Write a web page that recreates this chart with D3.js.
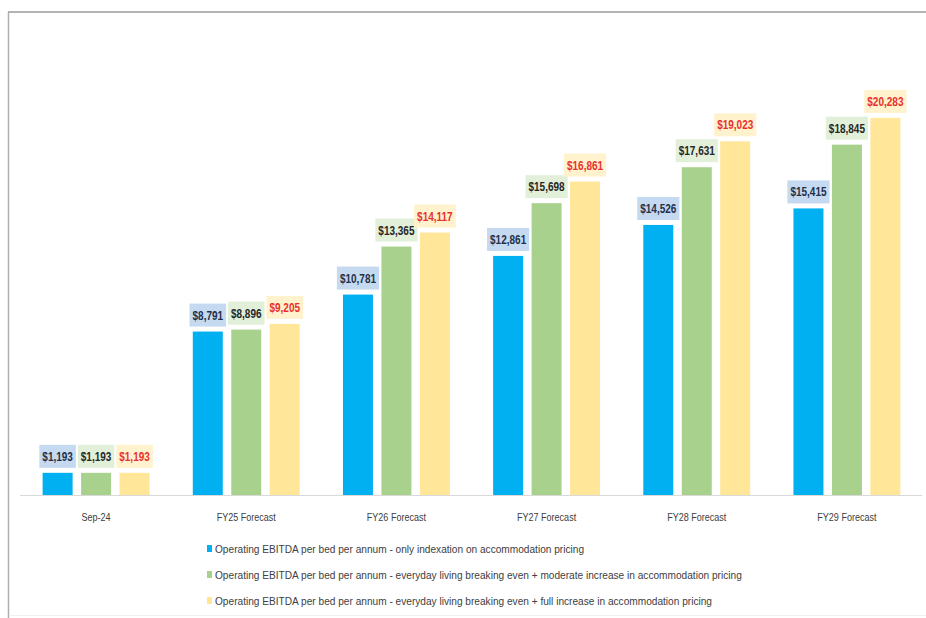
<!DOCTYPE html>
<html>
<head>
<meta charset="utf-8">
<script src="https://cdn.jsdelivr.net/npm/d3@7"></script>
<style>
  html, body { margin: 0; padding: 0; background: #ffffff; }
  svg { display: block; }
</style>
</head>
<body>
<svg id="chart" width="926" height="618"></svg>
<script>
const categories = ["Sep-24", "FY25 Forecast", "FY26 Forecast", "FY27 Forecast", "FY28 Forecast", "FY29 Forecast"];
const seriesNames = [
  "Operating EBITDA per bed per annum - only indexation on accommodation pricing",
  "Operating EBITDA per bed per annum - everyday living breaking even + moderate increase in accommodation pricing",
  "Operating EBITDA per bed per annum - everyday living breaking even + full increase in accommodation pricing"
];
const indexationValues = [1193, 8791, 10781, 12861, 14526, 15415];
const moderateValues   = [1193, 8896, 13365, 15698, 17631, 18845];
const fullValues       = [1193, 9205, 14117, 16861, 19023, 20283];
const seriesValues = [indexationValues, moderateValues, fullValues];

const barColors   = ["#00b0f0", "#a9d18e", "#ffe699"];
const boxColors   = ["#c5d9f1", "#e2efd9", "#fff2cc"];
const textColors  = ["#1f3049", "#262626", "#e8302c"];

const svg = d3.select("#chart");
const W = 926, H = 618;
const font = "'Liberation Sans', Arial, sans-serif";

// condense a text horizontally by a factor (emulating a narrow font)
function condense(t, factor) {
  const n = t.node();
  const len = n.getComputedTextLength();
  t.attr("textLength", len * factor).attr("lengthAdjust", "spacingAndGlyphs");
  return len * factor;
}

// frame
svg.append("line").attr("x1", 8).attr("x2", W).attr("y1", 12).attr("y2", 12)
  .attr("stroke", "#9a9a9a").attr("stroke-width", 1.5);
svg.append("line").attr("x1", 8.5).attr("x2", 8.5).attr("y1", 12).attr("y2", H)
  .attr("stroke", "#b0b0b0").attr("stroke-width", 1.5);
svg.append("line").attr("x1", 9).attr("x2", W).attr("y1", 615.5).attr("y2", 615.5)
  .attr("stroke", "#f0f0f0").attr("stroke-width", 1);

const baseY = 495;
const x0 = d3.scaleBand().domain(categories).range([21, 922]).paddingInner(0.288).paddingOuter(0.144);
const x1 = d3.scaleBand().domain([0, 1, 2]).range([0, x0.bandwidth()]).paddingInner(0.22);
const y = d3.scaleLinear().domain([0, 22000]).range([baseY, 86]);

// axis line
svg.append("line").attr("x1", 20).attr("x2", 922).attr("y1", baseY + 0.5).attr("y2", baseY + 0.5)
  .attr("stroke", "#d9d9d9").attr("stroke-width", 1);

const valueFactor = 0.8;

const groups = svg.append("g").selectAll("g").data(categories).join("g")
  .attr("transform", d => `translate(${x0(d)},0)`);

groups.each(function(cat, ci) {
  const g = d3.select(this);
  seriesValues.forEach((vals, si) => {
    const v = vals[ci];
    const bx = x1(si), bw = x1.bandwidth();
    g.append("rect").attr("x", bx).attr("y", y(v)).attr("width", bw).attr("height", baseY - y(v))
      .attr("fill", barColors[si]);
    const label = "$" + d3.format(",")(v);
    const cx = bx + bw / 2;
    const boxBottom = y(v) - 5;
    const boxH = 23;
    const lg = g.append("g");
    const rect = lg.append("rect").attr("fill", boxColors[si]);
    const t = lg.append("text").attr("x", cx).attr("y", boxBottom - 7)
      .attr("text-anchor", "middle").attr("font-family", font)
      .attr("font-weight", "bold").attr("font-size", 12.5).attr("fill", textColors[si]).text(label);
    const tw = condense(t, valueFactor);
    rect.attr("x", cx - tw / 2 - 3).attr("y", boxBottom - boxH).attr("width", tw + 6).attr("height", boxH);
  });
});

// category labels
svg.append("g").selectAll("text").data(categories).join("text")
  .attr("x", d => x0(d) + x0.bandwidth() / 2).attr("y", 521)
  .attr("text-anchor", "middle").attr("font-family", font).attr("font-size", 11)
  .attr("fill", "#404040").text(d => d)
  .each(function() { condense(d3.select(this), 0.82); });

// legend
const legendY = [549, 575, 601];
const lg = svg.append("g").selectAll("g").data(seriesNames).join("g")
  .attr("transform", (d, i) => `translate(207,${legendY[i]})`);
lg.append("rect").attr("x", 0).attr("y", -4).attr("width", 5).attr("height", 7)
  .attr("fill", (d, i) => barColors[i]);
lg.append("text").attr("x", 8).attr("y", 3.5).attr("font-family", font).attr("font-size", 11)
  .attr("fill", "#404040").text(d => d)
  .each(function() { condense(d3.select(this), 0.92); });
</script>
</body>
</html>
